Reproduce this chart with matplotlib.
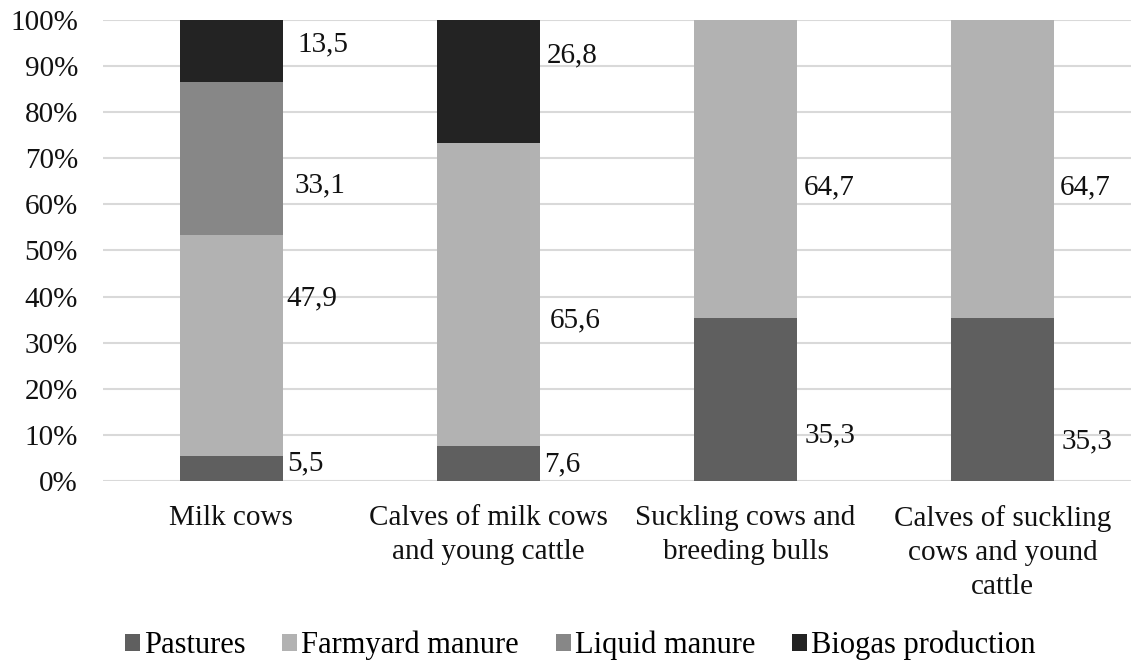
import matplotlib
matplotlib.use("Agg")
import matplotlib.pyplot as plt
from matplotlib.patches import Patch
import numpy as np

plt.rcParams['font.family'] = ['Liberation Serif', 'DejaVu Serif']

categories = [
    "Milk cows",
    "Calves of milk cows\nand young cattle",
    "Suckling cows and\nbreeding bulls",
    "Calves of suckling\ncows and yound\ncattle",
]
series_names = ["Pastures", "Farmyard manure", "Liquid manure", "Biogas production"]
pastures = [5.5, 7.6, 35.3, 35.3]
farmyard = [47.9, 65.6, 64.7, 64.7]
liquid = [33.1, 0.0, 0.0, 0.0]
biogas = [13.5, 26.8, 0.0, 0.0]
y_ticks = [0, 10, 20, 30, 40, 50, 60, 70, 80, 90, 100]
tick_labels = [f"{t}%" for t in y_ticks]

colors = ["#5f5f5f", "#b2b2b2", "#878787", "#232323"]

# where each value label sits: (category, series, label height %, gap to bar in px)
label_spots = [
    (0, 3, 94.6, 15), (0, 2, 64.2, 12), (0, 1, 39.7, 4), (0, 0, 3.9, 4),
    (1, 3, 92.4, 7), (1, 1, 34.9, 10), (1, 0, 3.5, 4),
    (2, 1, 63.6, 7), (2, 0, 9.8, 8),
    (3, 1, 63.6, 6), (3, 0, 8.5, 8),
]

FS = 21

fig = plt.figure(figsize=(11.31, 6.64), dpi=100)
ax = fig.add_axes([0.091, 0.2756, 0.909, 0.6944])

x = np.arange(len(categories))
width = 0.4
data = [pastures, farmyard, liquid, biogas]
bottom = np.zeros(len(categories))
for vals, col, name in zip(data, colors, series_names):
    ax.bar(x, vals, width, bottom=bottom, color=col, label=name, zorder=2)
    bottom += np.array(vals)

for ci, si, yl, gap in label_spots:
    val = data[si][ci]
    ax.annotate(f"{val:.1f}".replace(".", ","), xy=(x[ci] + width / 2, yl),
                xytext=(gap * 0.72, 0), textcoords="offset points",
                ha="left", va="center", fontsize=FS, color="#111111")

ax.set_xlim(-0.5, len(categories) - 0.5)
ax.set_ylim(0, 100)
ax.set_yticks(y_ticks)
ax.set_yticklabels(tick_labels, fontsize=FS, color="#111111")
ax.set_xticks(x)
ax.set_xticklabels(categories, fontsize=FS, color="#111111", linespacing=1.42)
ax.tick_params(axis="both", length=0)
ax.tick_params(axis="y", pad=18)
ax.tick_params(axis="x", pad=17)
ax.grid(axis="y", color="#d9d9d9", linewidth=1.5, zorder=0)
ax.set_axisbelow(True)
for s in ax.spines.values():
    s.set_visible(False)

handles = [Patch(facecolor=c, edgecolor="none") for c in colors]
fig.legend(handles, series_names, loc="center", bbox_to_anchor=(0.513, 0.028),
           ncol=4, frameon=False, fontsize=22, handlelength=0.5, handleheight=0.5,
           handletextpad=0.13, columnspacing=1.2, borderpad=0)

fig.savefig("out.png", dpi=100)
